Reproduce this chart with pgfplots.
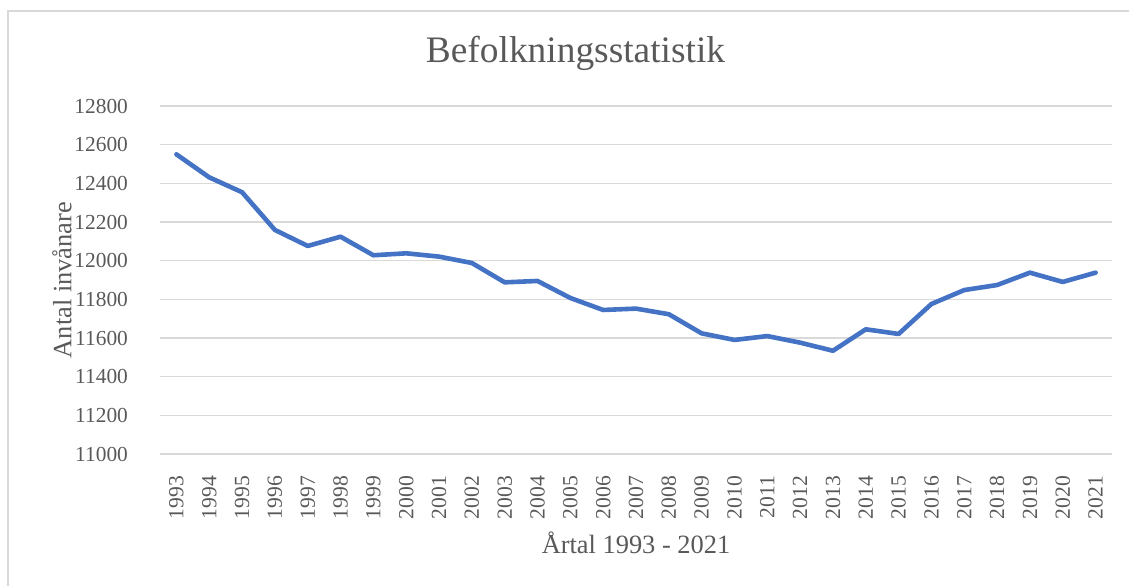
\documentclass[border=0pt]{standalone}
\usepackage{pgfplots}
\pgfplotsset{compat=1.18}
\usepackage{fontspec}
\setmainfont{Liberation Serif}
\definecolor{txt}{HTML}{595959}
\definecolor{grd}{HTML}{D9D9D9}
\definecolor{ln}{HTML}{4472C4}
\begin{document}
\begin{tikzpicture}
\begin{axis}[
  scale only axis,
  width=476pt, height=174pt,
  xmin=-0.5, xmax=28.5,
  ymin=11000, ymax=12800,
  ytick={11000,11200,...,12800},
  xtick={0,...,28},
  xticklabels={1993,1994,1995,1996,1997,1998,1999,2000,2001,2002,2003,2004,2005,2006,2007,2008,2009,2010,2011,2012,2013,2014,2015,2016,2017,2018,2019,2020,2021},
  axis line style={draw=none},
  major tick length=0pt,
  ymajorgrids, grid style={grd, line width=0.75pt},
  /pgf/number format/assume math mode=true,
  /pgf/number format/set thousands separator={},
  scaled y ticks=false,
  yticklabel style={font=\fontsize{10.7}{11}\selectfont, text=txt, anchor=east, xshift=-12.5pt},
  xticklabel style={font=\fontsize{10.8}{11}\selectfont, text=txt, rotate=90, anchor=east, xshift=-7.5pt},
  title={Befolkningsstatistik},
  title style={font=\fontsize{18.7}{20}\selectfont, text=txt, at={(axis description cs:0.4365,1)}, anchor=base, yshift=16pt},
]
\addplot[ln, line width=2.3pt, line join=round, line cap=round] coordinates {
(0,12550) (1,12431) (2,12354) (3,12159) (4,12076) (5,12124) (6,12028) (7,12038) (8,12021) (9,11988)
(10,11888) (11,11895) (12,11807) (13,11745) (14,11752) (15,11723) (16,11624) (17,11590) (18,11610) (19,11576)
(20,11534) (21,11645) (22,11621) (23,11776) (24,11848) (25,11874) (26,11938) (27,11890) (28,11938)
};
\end{axis}
\node[font=\fontsize{13.2}{14}\selectfont, text=txt, rotate=90, anchor=center] at ([shift={(-49pt,0pt)}]current axis.west) {Antal invånare};
\node[font=\fontsize{13.2}{14}\selectfont, text=txt, anchor=center] at ([shift={(0pt,-44.5pt)}]current axis.south) {Årtal 1993 - 2021};
\path[use as bounding box] ([shift={(-80pt,-65.5pt)}]current axis.south west) rectangle ([shift={(484.5pt,227pt)}]current axis.south west);
\draw[grd, line width=0.75pt] ([shift={(-76pt,-80pt)}]current axis.south west) -- ([shift={(-76pt,221.5pt)}]current axis.south west) -- ([shift={(500pt,221.5pt)}]current axis.south west);
\end{tikzpicture}
\end{document}
